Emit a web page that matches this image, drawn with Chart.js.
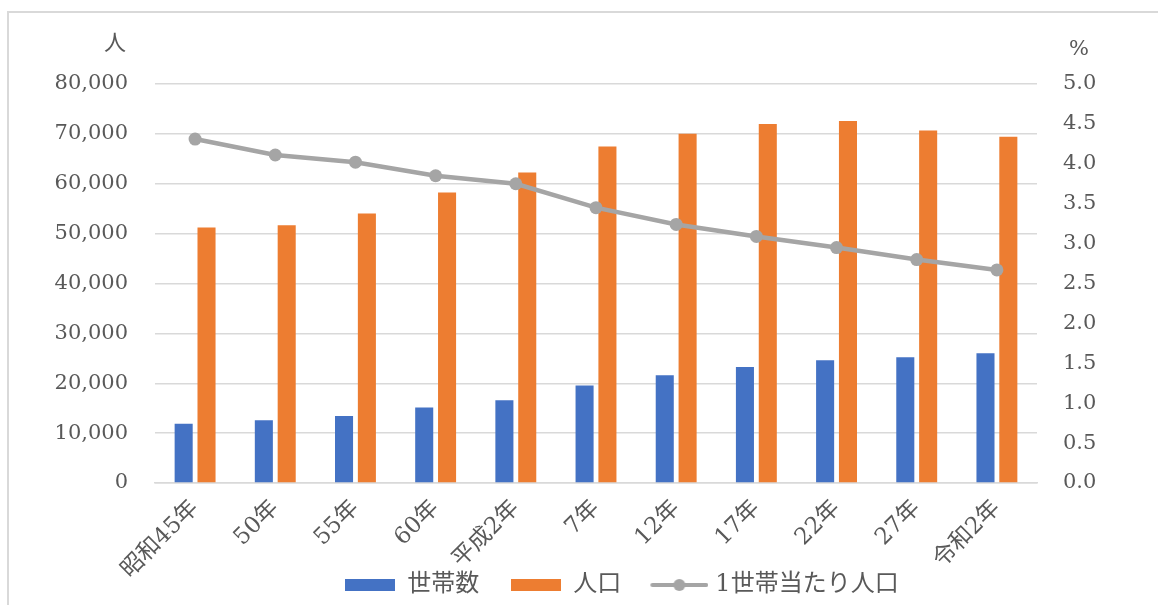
<!DOCTYPE html>
<html>
<head>
<meta charset="utf-8">
<script src="https://cdn.jsdelivr.net/npm/chart.js@4.4.1/dist/chart.umd.min.js"></script>
<style>
  html, body { margin: 0; padding: 0; background: #fff; }
  #wrap { position: relative; width: 1158px; height: 605px; overflow: hidden; }
  #frame { position: absolute; left: 7px; top: 11px; right: -5px; bottom: -5px;
           border-left: 2px solid #d9d9d9; border-top: 2px solid #d9d9d9; pointer-events: none; }
</style>
</head>
<body>
<div id="wrap">
  <canvas id="c" width="1158" height="605"></canvas>
  <div id="frame"></div>
</div>
<script>
const years = ['昭和45年', '50年', '55年', '60年', '平成2年', '7年', '12年', '17年', '22年', '27年', '令和2年'];
const households = [11900, 12580, 13440, 15130, 16590, 19540, 21610, 23270, 24620, 25220, 26020];
const population = [51240, 51700, 54050, 58260, 62270, 67490, 70020, 71970, 72570, 70700, 69420];
const perHousehold = [4.31, 4.11, 4.02, 3.85, 3.75, 3.45, 3.24, 3.09, 2.95, 2.80, 2.67];

const BLUE = '#4472C4', ORANGE = '#ED7D31', GRAY = '#A5A5A5', TEXT = '#595959', GRID = '#d9d9d9';
const FONT = "'DejaVu Serif', 'Noto Sans CJK JP', serif";

function swatch(w, h, color) {
    const c = document.createElement('canvas');
    c.width = w; c.height = h;
    const g = c.getContext('2d');
    g.fillStyle = color;
    g.fillRect(0, 0, w, h);
    return c;
}
function lineSwatch() {
    const c = document.createElement('canvas');
    c.width = 60; c.height = 14;
    const g = c.getContext('2d');
    g.strokeStyle = GRAY; g.lineWidth = 4; g.lineCap = 'round';
    g.beginPath(); g.moveTo(4, 7); g.lineTo(58, 7); g.stroke();
    g.fillStyle = GRAY;
    g.beginPath(); g.arc(31, 7, 6, 0, Math.PI * 2); g.fill();
    return c;
}
const legendIcons = [swatch(50, 12, BLUE), swatch(50, 12, ORANGE), lineSwatch()];

// unit labels above the two value axes
const unitLabels = {
    id: 'unitLabels',
    afterLayout(chart) {
        // legend sits lower than its layout box, overlapping the rotated labels' band
        const lg = chart.legend;
        lg.top = 541; lg.bottom = 605; lg.height = 64;
        lg.left += 43; lg.right += 43;
    },
    afterDraw(chart) {
        const ctx = chart.ctx;
        ctx.save();
        ctx.fillStyle = TEXT;
        ctx.textAlign = 'center';
        ctx.textBaseline = 'middle';
        ctx.font = "22px 'Noto Sans CJK JP'";
        ctx.fillText('人', 115, 42);
        ctx.font = "21px " + FONT;
        ctx.fillText('%', 1079, 50);
        ctx.restore();
    }
};

new Chart(document.getElementById('c'), {
    type: 'bar',
    data: {
        labels: years,
        datasets: [
            { label: '世帯数', data: households, backgroundColor: BLUE, yAxisID: 'y', order: 1,
              categoryPercentage: 0.57, barPercentage: 0.79 },
            { label: '人口', data: population, backgroundColor: ORANGE, yAxisID: 'y', order: 1,
              categoryPercentage: 0.57, barPercentage: 0.79 },
            { type: 'line', label: '1世帯当たり人口', data: perHousehold, yAxisID: 'y1', order: 0,
              borderColor: GRAY, backgroundColor: GRAY, borderWidth: 4.5,
              pointRadius: 6.5, pointBackgroundColor: GRAY, pointBorderWidth: 0, tension: 0 }
        ]
    },
    options: {
        responsive: false,
        animation: false,
        layout: { padding: { top: 84, left: 0, right: 0, bottom: 0 } },
        plugins: {
            tooltip: { enabled: false },
            legend: {
                position: 'bottom',
                maxHeight: 22,
                labels: {
                    usePointStyle: true,
                    pointStyleWidth: 50,
                    padding: 32,
                    color: TEXT,
                    font: { family: FONT, size: 24 },
                    sort: (a, b) => a.datasetIndex - b.datasetIndex,
                    generateLabels(chart) {
                        const items = Chart.defaults.plugins.legend.labels.generateLabels(chart);
                        items.forEach(it => { it.pointStyle = legendIcons[it.datasetIndex]; });
                        return items;
                    }
                }
            }
        },
        scales: {
            x: {
                offset: true,
                grid: { display: false },
                border: { display: true, color: GRID, width: 1.5 },
                ticks: { color: TEXT, font: { family: FONT, size: 23 }, minRotation: 45, maxRotation: 45, padding: 4 },
                afterFit(s) { s.height = 100; }
            },
            y: {
                position: 'left',
                min: 0, max: 80000,
                ticks: { stepSize: 10000, color: TEXT, font: { family: FONT, size: 21 }, padding: 27,
                         callback: v => v.toLocaleString('en-US') },
                grid: { color: GRID, lineWidth: 1.5, drawTicks: false },
                border: { display: false },
                afterFit(s) { s.width = 155; }
            },
            y1: {
                position: 'right',
                min: 0, max: 5,
                ticks: { stepSize: 0.5, color: TEXT, font: { family: FONT, size: 21 }, padding: 26,
                         callback: v => v.toFixed(1) },
                grid: { display: false, drawTicks: false },
                border: { display: false },
                afterFit(s) { s.width = 121; }
            }
        }
    },
    plugins: [unitLabels]
});
</script>
</body>
</html>
